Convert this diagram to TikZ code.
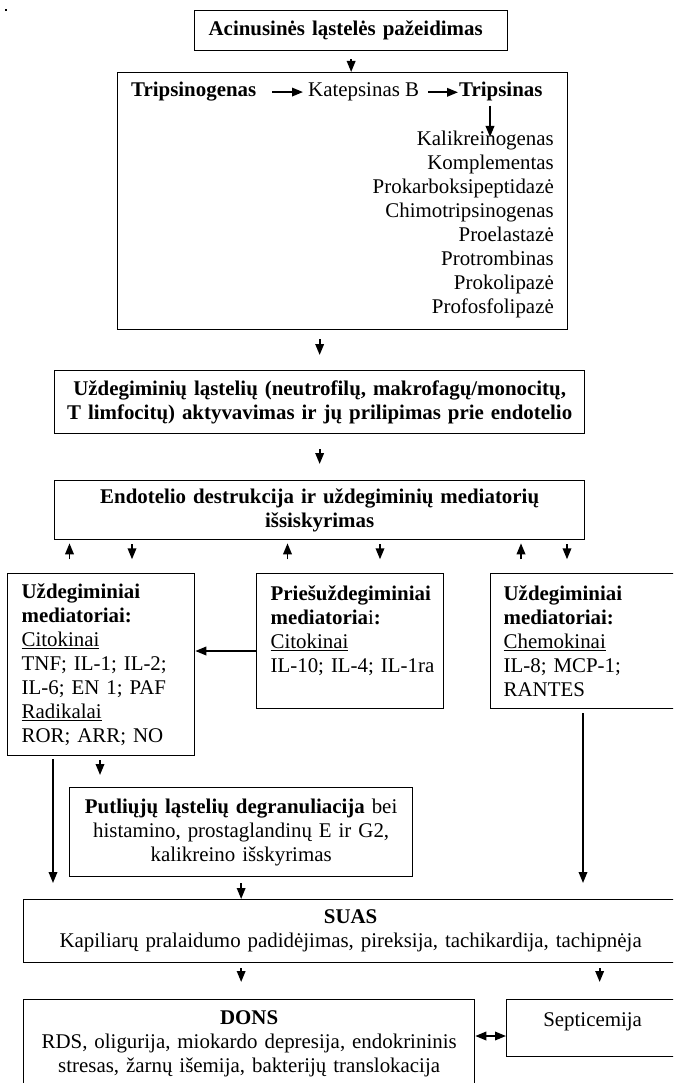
\documentclass[tikz,border=0pt]{standalone}
\usepackage{fontspec}
\setmainfont{Liberation Serif}
\usetikzlibrary{arrows.meta}

\newcommand\fs{\fontsize{20.9}{24}\selectfont}

\tikzset{
	>={Triangle[length=11pt,width=8.5pt]},
	box/.style={draw, line width=1.3pt, inner ysep=0pt, font=\fs},
	txt/.style={inner sep=0pt, font=\fs},
	arr/.style={->, line width=1.8pt},
	dbl/.style={<->, line width=1.8pt},
}

\begin{document}
\begin{tikzpicture}[x=1pt,y=-1pt]

\useasboundingbox (0,0) rectangle (673,1083);
\clip (0,0) rectangle (673,1083);

\fill (5,9) rectangle (7,11);

\node[box, anchor=north west, inner xsep=14pt, text width=285pt, minimum height=40pt, align=left, font=\fs\bfseries] (top) at (194,10) {Acinusinės ląstelės pažeidimas};

\node[box, anchor=north west, minimum width=450pt, minimum height=257pt] (enz) at (117,72) {};
\node[txt, anchor=base west, font=\fs\bfseries] (tg) at (131,97) {Tripsinogenas};
\node[txt, anchor=base west] (kb) at (308,97) {Katepsinas B};
\node[txt, anchor=base west, font=\fs\bfseries] (tr) at (459,97) {Tripsinas};
\node[txt, anchor=north east, align=right] (lst) at (554,131) {Kalikreinogenas\\Komplementas\\Prokarboksipeptidazė\\Chimotripsinogenas\\Proelastazė\\Protrombinas\\Prokolipazė\\Profosfolipazė};

\draw[arr] ([yshift=-8pt]top.south) -- (top.south |- enz.north);
\draw[arr] ([xshift=16pt]tg.east) -- ([xshift=-5pt]tg.east -| kb.west);
\draw[arr] ([xshift=9pt]kb.east) -- ([xshift=-1pt]kb.east -| tr.west);
\draw[arr] ([xshift=31pt,yshift=-4pt]tr.south west) -- ([xshift=31pt,yshift=-6pt]tr.south west |- lst.north);

\node[box, anchor=north west, inner xsep=10pt, text width=510pt, minimum height=63pt, align=center, font=\fs\bfseries] (inf) at (54,370) {Uždegiminių ląstelių (neutrofilų, makrofagų/monocitų,\\T limfocitų) aktyvavimas ir jų prilipimas prie endotelio};
\node[box, anchor=north west, inner xsep=10pt, text width=510pt, minimum height=59pt, align=center, font=\fs\bfseries] (endo) at (54,480) {Endotelio destrukcija ir uždegiminių mediatorių\\išsiskyrimas};

\draw[arr] ([yshift=-9pt]enz.south -| inf.north) -- ([yshift=15pt]inf.north);
\draw[arr] ([yshift=-15pt]inf.south) -- ([yshift=16pt]endo.north);

\foreach \xa in {15.5,233.5,467} %up
	\draw[arr] ([xshift=\xa pt,yshift=-19pt]endo.south west) -- ([xshift=\xa pt,yshift=-3pt]endo.south west);
\foreach \xa in {78,326,513} %down
	\draw[arr] ([xshift=\xa pt,yshift=-4pt]endo.south west) -- ([xshift=\xa pt,yshift=-19pt]endo.south west);

\node[box, anchor=north west, inner xsep=14pt, text width=159pt, minimum height=182pt, align=left] (uzd1) at (7,573) {\textbf{Uždegiminiai}\\\textbf{mediatoriai:}\\\underline{Citokinai}\\TNF; IL-1; IL-2;\\IL-6; EN 1; PAF\\\underline{Radikalai}\\ROR; ARR; NO};
\node[box, anchor=north west, inner xsep=14pt, text width=159pt, minimum height=135pt, align=left] (anti) at (256,573) {\textbf{Priešuždegiminiai}\\\textbf{mediatoria}i\textbf{:}\\\underline{Citokinai}\\\mbox{IL-10; IL-4; IL-1ra}\\\mbox{}};
\node[box, anchor=north west, inner xsep=13pt, text width=170pt, minimum height=135pt, align=left] (uzd2) at (490,573) {\textbf{Uždegiminiai}\\\textbf{mediatoriai:}\\\underline{Chemokinai}\\IL-8; MCP-1;\\RANTES};

\draw[arr] ([yshift=-78pt]anti.north west) -- ([yshift=-78pt]anti.north west -| uzd1.east);

\node[box, anchor=north west, inner xsep=10pt, text width=323pt, minimum height=89pt, align=center] (mast) at (69,787) {\textbf{Putliųjų ląstelių degranuliacija} bei\\histamino, prostaglandinų E ir G2,\\kalikreino išskyrimas};

\node[box, anchor=north west, inner xsep=10pt, text width=634pt, minimum height=63pt, align=center] (suas) at (23,899) {\textbf{SUAS}\\Kapiliarų pralaidumo padidėjimas, pireksija, tachikardija, tachipnėja};

\draw[arr] ([xshift=46pt,yshift=-3pt]uzd1.south west) -- ([xshift=46pt,yshift=16pt]uzd1.south west |- suas.north);
\draw[arr] ([xshift=93pt,yshift=-4pt]uzd1.south west) -- ([xshift=93pt,yshift=12pt]uzd1.south west |- mast.north);
\draw[arr] ([xshift=93pt,yshift=-4pt]uzd2.south west) -- ([xshift=93pt,yshift=16pt]uzd2.south west |- suas.north);
\draw[arr] ([yshift=-6pt]mast.south) -- (mast.south |- suas.north);

\node[box, anchor=north west, inner xsep=10pt, text width=431pt, minimum height=88pt, align=center] (dons) at (23,999) {\textbf{DONS}\\RDS, oligurija, miokardo depresija, endokrininis\\stresas, žarnų išemija, bakterijų translokacija};
\node[box, anchor=north west, minimum width=172pt, text height=27pt, text depth=30pt] (sept) at (506,999) {Septicemija};

\draw[arr] ([yshift=-5pt]suas.south -| mast.south) -- ([yshift=17pt]dons.north -| mast.south);
\draw[arr] ([xshift=7pt,yshift=-5pt]suas.south -| sept.north) -- ([xshift=7pt,yshift=17pt]sept.north);
\draw[dbl] ([yshift=-37pt]dons.north east) -- ([yshift=-37pt]dons.north east -| sept.west);

\end{tikzpicture}
\end{document}
